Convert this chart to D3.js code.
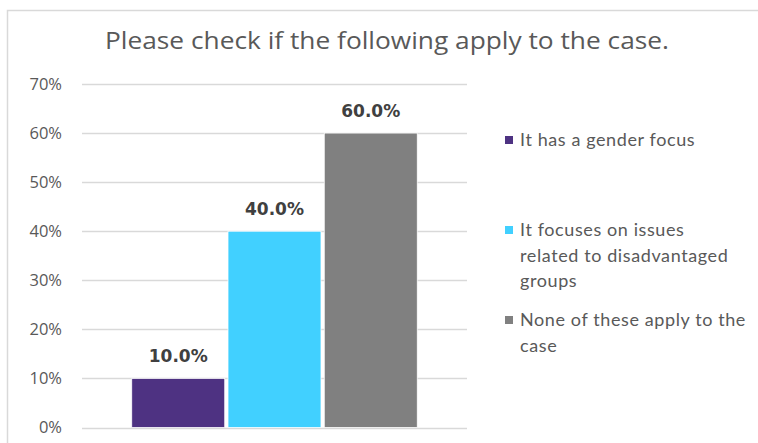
<!DOCTYPE html>
<html><head><meta charset="utf-8">
<script src="https://cdn.jsdelivr.net/npm/d3@7"></script>
<style>html,body{margin:0;padding:0;background:#fff;}svg{display:block;}</style>
</head><body>
<svg id="chart" width="758" height="443"></svg>
<script>
const title = "Please check if the following apply to the case.";
const seriesNames = ["It has a gender focus", "It focuses on issues related to disadvantaged groups", "None of these apply to the case"];
const seriesValues = [0.10, 0.40, 0.60];
const seriesColors = ["#4E3282", "#41D0FF", "#808080"];
const legendLines = [["It has a gender focus"], ["It focuses on issues", "related to disadvantaged", "groups"], ["None of these apply to the", "case"]];
const tickValues = [0, 0.1, 0.2, 0.3, 0.4, 0.5, 0.6, 0.7];

const svg = d3.select("#chart");
svg.append("rect").attr("x", 7.5).attr("y", 10.5).attr("width", 900).attr("height", 600)
  .attr("fill", "#fff").attr("stroke", "#D9D9D9").attr("stroke-width", 1.5);

svg.append("text").attr("x", 387).attr("y", 49).attr("text-anchor", "middle")
  .attr("font-family", "'Open Sans', sans-serif").attr("font-size", 24.5).attr("fill", "#595959")
  .attr("textLength", 564).attr("lengthAdjust", "spacingAndGlyphs")
  .text(title);

const y = d3.scaleLinear().domain([0, 0.7]).range([427.5, 84]);
const x = d3.scaleBand().domain(seriesNames).range([82, 467]).paddingInner(0.034).paddingOuter(0.517);

const grid = svg.append("g");
grid.selectAll("line").data(tickValues).join("line")
  .attr("x1", 82).attr("x2", 467).attr("y1", d => Math.round(y(d)) + 0.5).attr("y2", d => Math.round(y(d)) + 0.5)
  .attr("stroke", "#D9D9D9").attr("stroke-width", 1.5);

const yAxis = d3.axisLeft(y).tickValues(tickValues).tickFormat(d3.format(".0%")).tickSize(0).tickPadding(0);
const ax = svg.append("g").attr("transform", "translate(62,0)").call(yAxis);
ax.select(".domain").remove();
ax.selectAll("text").attr("font-family", "'Open Sans', sans-serif").attr("font-size", 16.5).attr("fill", "#595959");

svg.append("g").selectAll("rect").data(seriesNames).join("rect")
  .attr("x", d => x(d)).attr("width", x.bandwidth())
  .attr("y", (d, i) => y(seriesValues[i])).attr("height", (d, i) => y(0) - y(seriesValues[i]))
  .attr("fill", (d, i) => seriesColors[i]).attr("stroke", "#fff").attr("stroke-width", 0.75);

svg.append("g").selectAll("text").data(seriesNames).join("text")
  .attr("x", d => x(d) + x.bandwidth() / 2).attr("y", (d, i) => y(seriesValues[i]) - 16)
  .attr("text-anchor", "middle").attr("font-family", "'DejaVu Sans', sans-serif").attr("font-weight", "bold")
  .attr("font-size", 17).attr("fill", "#404040")
  .text((d, i) => d3.format(".1%")(seriesValues[i]));

const legendTop = [140, 230, 320];
const lg = svg.append("g");
seriesNames.forEach((s, i) => {
  lg.append("rect").attr("x", 505).attr("y", legendTop[i] - 4).attr("width", 8).attr("height", 8).attr("fill", seriesColors[i]);
  legendLines[i].forEach((ln, j) => {
    lg.append("text").attr("x", 520).attr("y", legendTop[i] + j * 25.5).attr("dy", "0.35em")
      .attr("font-family", "Lato, sans-serif").attr("font-size", 18).attr("letter-spacing", 0.6)
      .attr("fill", "#595959").text(ln);
  });
});
</script>
</body></html>
